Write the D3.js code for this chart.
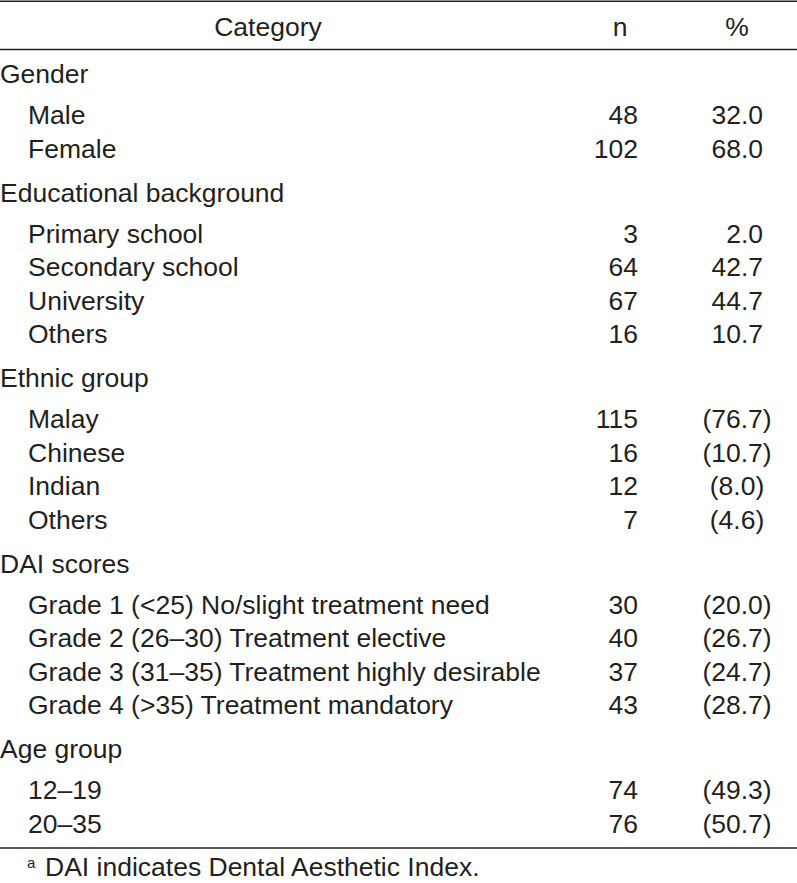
<!DOCTYPE html>
<html>
<head>
<meta charset="utf-8">
<script src="https://cdn.jsdelivr.net/npm/d3@7"></script>
<style>
  html, body { margin: 0; padding: 0; background: #fff; }
  svg text { font-family: "Liberation Sans", Arial, Helvetica, sans-serif; fill: #231f20; }
</style>
</head>
<body>
<div id="table"></div>
<script>
// table content
const headers = ["Category", "n", "%"];
const groupNames = ["Gender", "Educational background", "Ethnic group", "DAI scores", "Age group"];
const itemLabels = [
  ["Male", "Female"],
  ["Primary school", "Secondary school", "University", "Others"],
  ["Malay", "Chinese", "Indian", "Others"],
  ["Grade 1 (<25) No/slight treatment need", "Grade 2 (26\u201330) Treatment elective",
   "Grade 3 (31\u201335) Treatment highly desirable", "Grade 4 (>35) Treatment mandatory"],
  ["12\u201319", "20\u201335"]
];
const nValues = [[48, 102], [3, 64, 67, 16], [115, 16, 12, 7], [30, 40, 37, 43], [74, 76]];
const pctValues = [[32.0, 68.0], [2.0, 42.7, 44.7, 10.7], [76.7, 10.7, 8.0, 4.6], [20.0, 26.7, 24.7, 28.7], [49.3, 50.7]];
const pctInParens = [false, false, true, true, true];
const footnote = "DAI indicates Dental Aesthetic Index.";

const width = 797, height = 883;
const fontSize = 26.5;

const svg = d3.select("#table").append("svg")
  .attr("width", width)
  .attr("height", height)
  .style("display", "block");

// column positions
const colLabel = 0, colItem = 28, colN = 638, colPctEnd = 763, colPctMid = 737;

// rule lines
const rule = (y, w) => svg.append("line")
  .attr("x1", 0).attr("x2", width)
  .attr("y1", y).attr("y2", y)
  .attr("stroke", "#231f20").attr("stroke-width", w);

rule(1.2, 1.6);
rule(49.5, 1.3);

// header row
const headerY = 36;
svg.append("text").attr("x", 268).attr("y", headerY).attr("text-anchor", "middle")
  .style("font-size", fontSize + "px").text(headers[0]);
svg.append("text").attr("x", 620).attr("y", headerY).attr("text-anchor", "middle")
  .style("font-size", fontSize + "px").text(headers[1]);
svg.append("text").attr("x", 737).attr("y", headerY).attr("text-anchor", "middle")
  .style("font-size", fontSize + "px").text(headers[2]);

// body rows
const fmt = d3.format(".1f");
const headToItem = 41, itemGap = 33.5, itemToHead = 44;
let y = 83;

groupNames.forEach((g, gi) => {
  if (gi > 0) y += itemToHead;
  svg.append("text").attr("x", colLabel).attr("y", y)
    .style("font-size", fontSize + "px").text(g);
  y += headToItem;
  itemLabels[gi].forEach((lab, i) => {
    if (i > 0) y += itemGap;
    svg.append("text").attr("x", colItem).attr("y", y)
      .style("font-size", fontSize + "px").text(lab);
    svg.append("text").attr("x", colN).attr("y", y).attr("text-anchor", "end")
      .style("font-size", fontSize + "px").text(nValues[gi][i]);
    const p = fmt(pctValues[gi][i]);
    if (pctInParens[gi]) {
      svg.append("text").attr("x", colPctMid).attr("y", y).attr("text-anchor", "middle")
        .style("font-size", fontSize + "px").text("(" + p + ")");
    } else {
      svg.append("text").attr("x", colPctEnd).attr("y", y).attr("text-anchor", "end")
        .style("font-size", fontSize + "px").text(p);
    }
  });
});

// bottom rule + footnote
rule(848, 1.3);

const fn = svg.append("text").attr("x", 27).attr("y", 868)
  .style("font-size", fontSize + "px");
fn.append("tspan").style("font-size", "15px").text("a");
fn.append("tspan").attr("x", 45).attr("dy", 8).text(footnote);
</script>
</body>
</html>
